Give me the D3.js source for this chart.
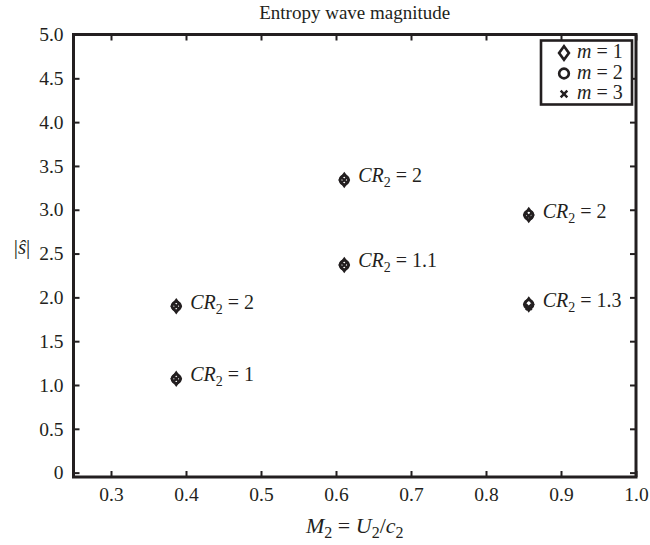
<!DOCTYPE html>
<html>
<head>
<meta charset="utf-8">
<script src="https://cdn.jsdelivr.net/npm/d3@7"></script>
<style>
  html, body { margin: 0; padding: 0; background: #fff; }
  svg { display: block; }
  text { font-family: "Liberation Serif", "Times New Roman", serif; fill: #231f20; }
</style>
</head>
<body>
<svg id="chart" width="650" height="545"></svg>
<script>
// Flow Mach number at station 2 for each case
const machNumbers = [0.387, 0.387, 0.611, 0.611, 0.857, 0.857];
// Compression-ratio label for each case
const crLabels = ["1", "2", "1.1", "2", "2", "1.3"];
// Entropy wave magnitude |s| per circumferential mode
const sMode1 = [1.07, 1.90, 2.37, 3.34, 2.94, 1.92];
const sMode2 = [1.07, 1.90, 2.37, 3.34, 2.94, 1.92];
const sMode3 = [1.07, 1.90, 2.37, 3.34, 2.93, 1.89];
const modes = ["1", "2", "3"];
const xTicks = [0.3, 0.4, 0.5, 0.6, 0.7, 0.8, 0.9, 1.0];
const yTicks = [0, 0.5, 1.0, 1.5, 2.0, 2.5, 3.0, 3.5, 4.0, 4.5, 5.0];

const ink = "#231f20";
const serif = "'Liberation Serif', 'Times New Roman', serif";
const svg = d3.select("#chart");
const plotL = 73.5, plotR = 636, plotT = 34.5, plotB = 477;

const x = d3.scaleLinear().domain([0.25, 1.0]).range([plotL, plotR]);
const y = d3.scaleLinear().domain([-0.05, 5.0]).range([plotB, plotT]);

function styleAxis(g) {
  g.attr("font-family", serif);
  g.select(".domain").remove();
  g.selectAll(".tick line").attr("stroke", ink).attr("stroke-width", 2);
  g.selectAll(".tick text").attr("fill", ink).style("font-size", "19.5px");
}

const fmtY = d => d === 0 ? "0" : d3.format(".1f")(d);

svg.append("g").attr("transform", `translate(0,${plotB})`)
  .call(d3.axisBottom(x).tickValues(xTicks).tickFormat(d3.format(".1f")).tickSize(-6).tickPadding(10))
  .call(styleAxis);
svg.append("g").attr("transform", `translate(0,${plotT})`)
  .call(d3.axisTop(x).tickValues(xTicks).tickFormat("").tickSize(-6))
  .call(styleAxis);
svg.append("g").attr("transform", `translate(${plotL},0)`)
  .call(d3.axisLeft(y).tickValues(yTicks).tickFormat(fmtY).tickSize(-6).tickPadding(10))
  .call(styleAxis);
svg.append("g").attr("transform", `translate(${plotR},0)`)
  .call(d3.axisRight(y).tickValues(yTicks).tickFormat("").tickSize(-6))
  .call(styleAxis);

// Frame
svg.append("rect")
  .attr("x", plotL).attr("y", plotT)
  .attr("width", plotR - plotL).attr("height", plotB - plotT)
  .attr("fill", "none").attr("stroke", ink).attr("stroke-width", 3);

// Marker shapes
const diamond = (s) => `M0,${-s}L${s * 0.72},0L0,${s}L${-s * 0.72},0Z`;
function drawMarker(g, kind, cx, cy, scale) {
  const m = g.append("g").attr("transform", `translate(${cx},${cy}) scale(${scale})`)
    .attr("fill", "none").attr("stroke", ink).attr("stroke-width", 2.4);
  if (kind === 0) m.append("path").attr("d", diamond(6.2));
  else if (kind === 1) m.append("circle").attr("r", 4.4);
  else m.append("path").attr("d", "M-3,-3L3,3M-3,3L3,-3").attr("stroke-width", 2.2);
}

const series = [sMode1, sMode2, sMode3];
const pts = svg.append("g");
series.forEach((vals, k) => {
  vals.forEach((v, i) => drawMarker(pts, k, x(machNumbers[i]), y(v), 1));
});

// Case labels
machNumbers.forEach((mx, i) => {
  const t = svg.append("text")
    .attr("x", x(mx) + 14).attr("y", y(sMode2[i]) + 2.5)
    .style("font-size", "20px");
  t.append("tspan").attr("font-style", "italic").text("CR");
  t.append("tspan").attr("dy", 5).style("font-size", "14px").text("2");
  t.append("tspan").attr("dy", -5).text(" = " + crLabels[i]);
});

// Title
svg.append("text").attr("x", (plotL + plotR) / 2).attr("y", 19)
  .attr("text-anchor", "middle").style("font-size", "19px")
  .text("Entropy wave magnitude");

// X axis label
const xl = svg.append("text").attr("x", (plotL + plotR) / 2).attr("y", 533)
  .attr("text-anchor", "middle").style("font-size", "22px");
xl.append("tspan").attr("font-style", "italic").text("M");
xl.append("tspan").attr("dy", 5).style("font-size", "16px").text("2");
xl.append("tspan").attr("dy", -5).text(" = ");
xl.append("tspan").attr("font-style", "italic").text("U");
xl.append("tspan").attr("dy", 5).style("font-size", "16px").text("2");
xl.append("tspan").attr("dy", -5).text("/");
xl.append("tspan").attr("font-style", "italic").text("c");
xl.append("tspan").attr("dy", 5).style("font-size", "16px").text("2");

// Y axis label |ŝ|
svg.append("text").attr("x", 22).attr("y", 254)
  .attr("text-anchor", "middle").style("font-size", "21px")
  .html('|<tspan font-style="italic">ŝ</tspan>|');

// Legend
const lg = svg.append("g");
lg.append("rect").attr("x", 541).attr("y", 40.5).attr("width", 91).attr("height", 64)
  .attr("fill", "#fff").attr("stroke", ink).attr("stroke-width", 2.6);
modes.forEach((m, k) => {
  const ly = 53 + k * 20.5;
  drawMarker(lg, k, 564, ly, 1.1);
  const t = lg.append("text").attr("x", 577).attr("y", ly + 5).style("font-size", "20px");
  t.append("tspan").attr("font-style", "italic").text("m");
  t.append("tspan").text(" = " + m);
});
</script>
</body>
</html>
